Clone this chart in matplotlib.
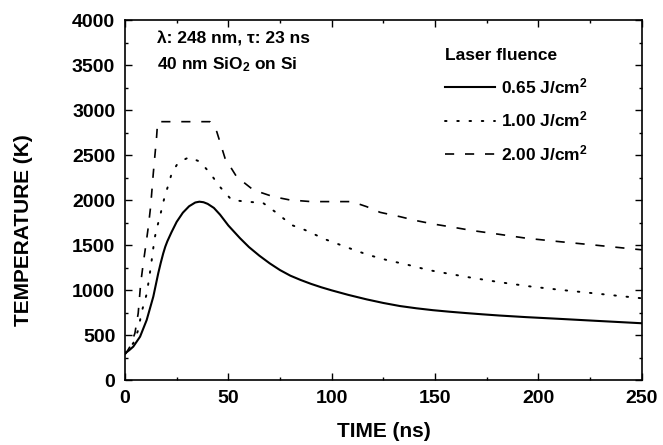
import matplotlib
matplotlib.use('Agg')
import matplotlib.pyplot as plt
from matplotlib.lines import Line2D

plt.rcParams['font.family'] = ['Liberation Sans', 'DejaVu Sans']
plt.rcParams['font.weight'] = 'bold'
plt.rcParams['mathtext.fontset'] = 'custom'
plt.rcParams['mathtext.rm'] = 'Liberation Sans:bold'
plt.rcParams['mathtext.it'] = 'Liberation Sans:bold'
plt.rcParams['mathtext.bf'] = 'Liberation Sans:bold'

# 0.65 J/cm2
t_065 = [0, 2, 4, 7.3, 10.5, 13.7, 16.1, 17.3, 18.5, 19.5, 20.5, 22.5, 25, 28, 31, 34, 36,
         38, 40, 43, 46, 50, 55.6, 60, 65, 70, 75, 80, 85, 90, 95, 100, 108, 116.9, 125,
         133, 141, 149, 157, 165, 173, 181, 194, 210, 227, 250]
T_065 = [300, 335, 375, 486, 671, 930, 1190, 1305, 1410, 1485, 1545, 1645, 1760, 1862, 1933,
         1975, 1984, 1978, 1960, 1915, 1840, 1720, 1580, 1480, 1385, 1300, 1225, 1163, 1115,
         1072, 1034, 1000, 950, 900, 860, 826, 801, 780, 763, 748, 734, 721, 703, 684, 663,
         635]

# 1.00 J/cm2
t_100 = [0, 2, 4, 6.4, 8.1, 10.5, 11.8, 12.9, 13.7, 14.5, 15.6, 16.9, 18.2, 19.4, 21, 22.6,
         25.8, 31, 36.3, 41.1, 46, 51.6, 58.9, 66.8, 73.4, 80.6, 87.1, 96.8, 107.3, 117.7,
         126.6, 137.1, 146.7, 157.2, 166.9, 181.4, 196.8, 211.3, 226.6, 250]
T_100 = [300, 360, 413, 560, 763, 960, 1150, 1330, 1470, 1595, 1706, 1817, 1947, 2058, 2169,
         2299, 2420, 2477, 2428, 2302, 2147, 2003, 1984, 1970, 1859, 1725, 1670, 1567, 1478,
         1393, 1337, 1282, 1226, 1182, 1143, 1090, 1041, 1004, 968, 912]

# 2.00 J/cm2
t_200 = [0, 0.5, 2.4, 4.8, 6.4, 7.6, 8.85, 10.2, 11.3, 12.4, 13.7, 15.3, 15.8, 41.1, 44.4,
         48.4, 54, 62.1, 71.7, 79.8, 90, 109.7, 116.9, 123.4, 133, 141.1, 149.2, 158.8,
         168.5, 179.8, 194.3, 210.4, 226.6, 245.9, 250]
T_200 = [290, 302, 375, 524, 746, 1078, 1300, 1520, 1706, 1928, 2299, 2705, 2872, 2872, 2761,
         2466, 2261, 2114, 2040, 2003, 1985, 1985, 1929, 1866, 1818, 1773, 1736, 1700, 1662,
         1626, 1578, 1540, 1504, 1459, 1450]

labels = ['0.65 J/cm$^{2}$', '1.00 J/cm$^{2}$', '2.00 J/cm$^{2}$']

fig = plt.figure(figsize=(6.63, 4.45), dpi=100)
ax = fig.add_axes([0.1885, 0.145, 0.7795, 0.81])

dot_ls = (0, (0.8, 5.5))
dash_ls = (0, (5.5, 6.5))
ax.plot(t_065, T_065, color='black', lw=1.5, ls='-')
ax.plot(t_100, T_100, color='black', lw=1.4, ls=dot_ls, dash_capstyle='round')
ax.plot(t_200, T_200, color='black', lw=1.2, ls=dash_ls)

ax.set_xlim(0, 250)
ax.set_ylim(0, 4000)
ax.set_xticks(range(0, 251, 50))
ax.set_xticks(range(0, 251, 25), minor=True)
ax.set_yticks(range(0, 4001, 500))
ax.set_yticks(range(0, 4001, 250), minor=True)
ax.tick_params(which='both', direction='in', top=True, right=True, width=1.0,
               labelsize=14)
ax.tick_params(which='major', length=5)
ax.tick_params(which='minor', length=2.5)
ax.tick_params(axis='x', pad=7)
ax.tick_params(axis='y', pad=7)
for s in ax.spines.values():
    s.set_linewidth(1.2)

ax.set_xlabel('TIME (ns)', fontsize=15, fontweight='bold', labelpad=11)
ax.set_ylabel('TEMPERATURE (K)', fontsize=15, fontweight='bold')
ax.yaxis.set_label_coords(-0.178, 0.417)

ax.text(0.061, 0.947, 'λ: 248 nm, τ: 23 ns', transform=ax.transAxes, fontsize=12.5,
        fontweight='bold', va='center', ha='left')
ax.text(0.061, 0.875, '40 nm SiO$_{2}$ on Si', transform=ax.transAxes, fontsize=12.5,
        fontweight='bold', va='center', ha='left')

handles = [Line2D([], [], color='black', lw=1.5, ls='-'),
           Line2D([], [], color='black', lw=1.4, ls=dot_ls, dash_capstyle='round'),
           Line2D([], [], color='black', lw=1.2, ls=dash_ls)]
leg = ax.legend(handles, labels, title='Laser fluence', loc='upper left',
                bbox_to_anchor=(0.619, 0.923), frameon=False, fontsize=12.5,
                title_fontsize=12.5, alignment='left', borderpad=0, borderaxespad=0,
                handlelength=2.9, handletextpad=0.35, labelspacing=0.78)
leg.get_title().set_fontweight('bold')

plt.savefig('out.png', dpi=100)
plt.close()
